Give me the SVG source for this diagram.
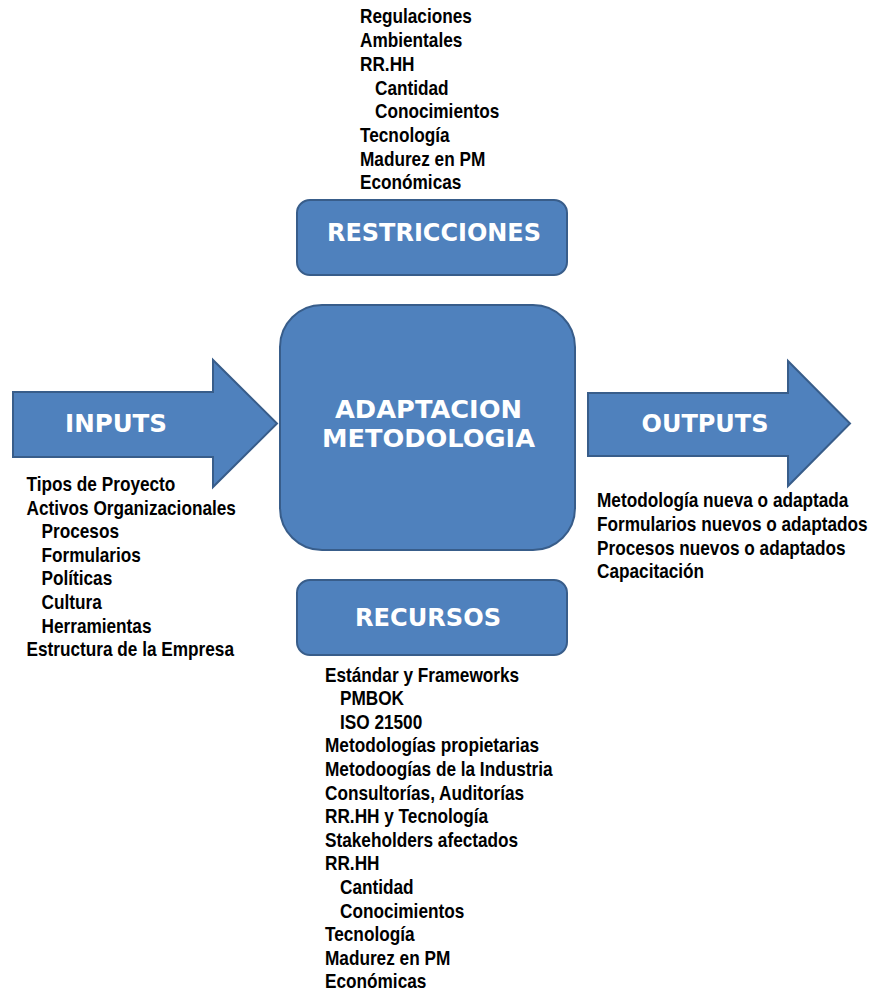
<svg xmlns="http://www.w3.org/2000/svg" width="870" height="993" viewBox="0 0 870 993">
<style>
.shape{fill:#4F81BD;stroke:#385D8A;stroke-width:2}
.title{font-family:"DejaVu Sans","Liberation Sans",sans-serif;font-weight:bold;font-size:25px;fill:#FFFFFF;text-anchor:middle}
.body{font-family:"Liberation Sans",Arial,sans-serif;font-weight:bold;font-size:21px;fill:#000000}
</style>
<rect width="870" height="993" fill="#FFFFFF"/>
<g id="restricciones-list" transform="translate(360,0) scale(0.82,1)">
<text class="body" x="0" y="23.5">Regulaciones</text>
<text class="body" x="0" y="47.2">Ambientales</text>
<text class="body" x="0" y="70.9">RR.HH</text>
<text class="body" x="18.3" y="94.6">Cantidad</text>
<text class="body" x="18.3" y="118.3">Conocimientos</text>
<text class="body" x="0" y="142">Tecnología</text>
<text class="body" x="0" y="165.7">Madurez en PM</text>
<text class="body" x="0" y="189.4">Económicas</text>
</g>
<g id="restricciones">
<rect class="shape" x="297" y="200" width="270" height="75" rx="13"/>
<text class="title" x="434" y="241" textLength="214" lengthAdjust="spacingAndGlyphs">RESTRICCIONES</text>
</g>
<g id="adaptacion">
<rect class="shape" x="280" y="305" width="295" height="245" rx="42"/>
<text class="title" x="428.5" y="418" textLength="187" lengthAdjust="spacingAndGlyphs">ADAPTACION</text>
<text class="title" x="428.5" y="446.5" textLength="213" lengthAdjust="spacingAndGlyphs">METODOLOGIA</text>
</g>
<g id="inputs">
<path class="shape" d="M13,392 H213 V360 L277,423.5 L213,487 V457 H13 Z"/>
<text class="title" x="116" y="432" textLength="102" lengthAdjust="spacingAndGlyphs">INPUTS</text>
</g>
<g id="outputs">
<path class="shape" d="M588,393 H788 V361 L850,423.5 L788,486 V456 H588 Z"/>
<text class="title" x="705" y="432" textLength="127" lengthAdjust="spacingAndGlyphs">OUTPUTS</text>
</g>
<g id="recursos">
<rect class="shape" x="297" y="580" width="270" height="75" rx="13"/>
<text class="title" x="428" y="626" textLength="146" lengthAdjust="spacingAndGlyphs">RECURSOS</text>
</g>
<g id="inputs-list" transform="translate(26.5,0) scale(0.82,1)">
<text class="body" x="0" y="491">Tipos de Proyecto</text>
<text class="body" x="0" y="514.6">Activos Organizacionales</text>
<text class="body" x="18.3" y="538.2">Procesos</text>
<text class="body" x="18.3" y="561.8">Formularios</text>
<text class="body" x="18.3" y="585.4">Políticas</text>
<text class="body" x="18.3" y="609">Cultura</text>
<text class="body" x="18.3" y="632.6">Herramientas</text>
<text class="body" x="0" y="656.2">Estructura de la Empresa</text>
</g>
<g id="outputs-list" transform="translate(597,0) scale(0.82,1)">
<text class="body" x="0" y="507.5">Metodología nueva o adaptada</text>
<text class="body" x="0" y="531.1">Formularios nuevos o adaptados</text>
<text class="body" x="0" y="554.7">Procesos nuevos o adaptados</text>
<text class="body" x="0" y="578.3">Capacitación</text>
</g>
<g id="recursos-list" transform="translate(325,0) scale(0.82,1)">
<text class="body" x="0" y="681.7">Estándar y Frameworks</text>
<text class="body" x="18.3" y="705.3">PMBOK</text>
<text class="body" x="18.3" y="728.9">ISO 21500</text>
<text class="body" x="0" y="752.5">Metodologías propietarias</text>
<text class="body" x="0" y="776.1">Metodoogías de la Industria</text>
<text class="body" x="0" y="799.7">Consultorías, Auditorías</text>
<text class="body" x="0" y="823.3">RR.HH y Tecnología</text>
<text class="body" x="0" y="846.9">Stakeholders afectados</text>
<text class="body" x="0" y="870.5">RR.HH</text>
<text class="body" x="18.3" y="894.1">Cantidad</text>
<text class="body" x="18.3" y="917.7">Conocimientos</text>
<text class="body" x="0" y="941.3">Tecnología</text>
<text class="body" x="0" y="964.9">Madurez en PM</text>
<text class="body" x="0" y="988.5">Económicas</text>
</g>
<g id="connectors"/>
</svg>
